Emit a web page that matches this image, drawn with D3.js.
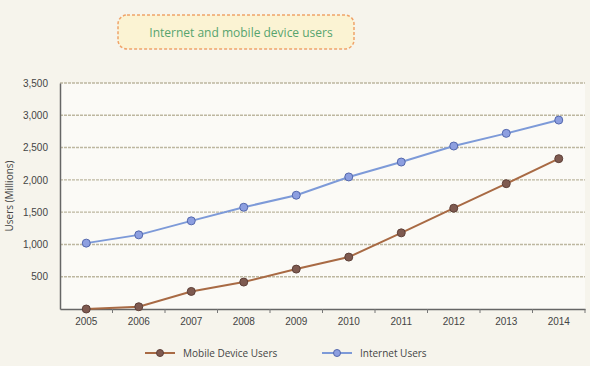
<!DOCTYPE html>
<html>
<head>
<meta charset="utf-8">
<script src="https://cdn.jsdelivr.net/npm/d3@7"></script>
<style>
    body { margin: 0; background: #f6f4ec; }
    svg { display: block; font-family: "Open Sans", sans-serif; }
</style>
</head>
<body>
<svg id="chart" width="590" height="366"></svg>
<script>
// Data
var years = ["2005", "2006", "2007", "2008", "2009",
             "2010", "2011", "2012", "2013", "2014"];
var mobileUsers = [0, 35, 272, 417, 618, 804, 1179, 1561, 1941, 2328];
var internetUsers = [1020, 1148, 1365, 1576, 1762, 2045, 2276, 2524, 2720, 2926];
var yTicks = [500, 1000, 1500, 2000, 2500, 3000, 3500];
var seriesNames = ["Mobile Device Users", "Internet Users"];

var margin = {top: 83, right: 5, bottom: 57, left: 60},
    width = 590 - margin.left - margin.right,
    height = 366 - margin.top - margin.bottom;

var svg = d3.select("#chart");

// Title box
svg.append("rect")
    .attr("x", 118).attr("y", 15)
    .attr("width", 236).attr("height", 34)
    .attr("rx", 9)
    .attr("fill", "#fbf3d3")
    .attr("stroke", "#f0a46a")
    .attr("stroke-width", 1.5)
    .attr("stroke-dasharray", "3,2");
svg.append("text")
    .attr("x", 241).attr("y", 37)
    .attr("text-anchor", "middle")
    .attr("fill", "#56a46e")
    .style("font-size", "12px")
    .text("Internet and mobile device users");

var g = svg.append("g")
    .attr("transform", "translate(" + margin.left + "," + margin.top + ")");

var x = d3.scaleBand().domain(years).range([0, width]);
var y = d3.scaleLinear().domain([0, 3500]).range([height, 0]);

// Plot background
g.append("rect")
    .attr("width", width).attr("height", height)
    .attr("fill", "#fbfaf6");

// Gridlines
g.selectAll(".grid")
    .data(yTicks)
    .enter().append("line")
    .attr("x1", 0).attr("x2", width)
    .attr("y1", function(d) { return y(d); })
    .attr("y2", function(d) { return y(d); })
    .attr("stroke", "#bdb7a0")
    .attr("stroke-width", 1.4)
    .attr("stroke-dasharray", "3,1");

// Y axis
var yAxis = g.append("g")
    .call(d3.axisLeft(y).tickValues(yTicks).tickSize(0).tickPadding(12)
        .tickFormat(d3.format(",")));
yAxis.select(".domain").attr("stroke", "#666").attr("stroke-width", 1.5);
yAxis.selectAll("text")
    .attr("fill", "#444").style("font-size", "10px");

// X axis with ticks between bands
var xAxis = g.append("g")
    .attr("transform", "translate(0," + height + ")")
    .call(d3.axisBottom(x).tickSize(0).tickPadding(9));
xAxis.select(".domain").attr("stroke", "#666").attr("stroke-width", 1.5);
xAxis.selectAll("text")
    .attr("fill", "#444").style("font-size", "10px");
xAxis.selectAll(".sep")
    .data(years)
    .enter().append("line")
    .attr("x1", function(d) { return x(d) + x.bandwidth(); })
    .attr("x2", function(d) { return x(d) + x.bandwidth(); })
    .attr("y1", 0).attr("y2", 4)
    .attr("stroke", "#777");

var line = d3.line()
    .x(function(d, i) { return x(years[i]) + x.bandwidth() / 2; })
    .y(function(d) { return y(d); });

function drawSeries(values, lineColor, fill, stroke) {
    g.append("path")
        .datum(values)
        .attr("fill", "none")
        .attr("stroke", lineColor)
        .attr("stroke-width", 2)
        .attr("d", line);
    g.selectAll(null)
        .data(values)
        .enter().append("circle")
        .attr("cx", function(d, i) { return x(years[i]) + x.bandwidth() / 2; })
        .attr("cy", function(d) { return y(d); })
        .attr("r", 4)
        .attr("fill", fill)
        .attr("stroke", stroke)
        .attr("stroke-width", 1);
}

drawSeries(internetUsers, "#7d9ad8", "#8d9fe0", "#5468ad");
drawSeries(mobileUsers, "#a86a44", "#7e5a50", "#5e4038");

// Y axis title
svg.append("text")
    .attr("transform", "translate(13,196) rotate(-90)")
    .attr("text-anchor", "middle")
    .attr("fill", "#444")
    .style("font-size", "10px")
    .text("Users (Millions)");

// Legend
var legend = [
    {name: seriesNames[0], x: 145, line: "#a86a44", fill: "#7e5a50", stroke: "#5e4038"},
    {name: seriesNames[1], x: 322, line: "#7d9ad8", fill: "#8d9fe0", stroke: "#5468ad"}
];
var lg = svg.selectAll(".legend")
    .data(legend)
    .enter().append("g")
    .attr("transform", function(d) { return "translate(" + d.x + ",353)"; });
lg.append("line")
    .attr("x1", 0).attr("x2", 30)
    .attr("stroke", function(d) { return d.line; })
    .attr("stroke-width", 2);
lg.append("circle")
    .attr("cx", 15).attr("r", 3.5)
    .attr("fill", function(d) { return d.fill; })
    .attr("stroke", function(d) { return d.stroke; });
lg.append("text")
    .attr("x", 38).attr("y", 4)
    .attr("fill", "#444")
    .style("font-size", "10px")
    .text(function(d) { return d.name; });
</script>
</body>
</html>
